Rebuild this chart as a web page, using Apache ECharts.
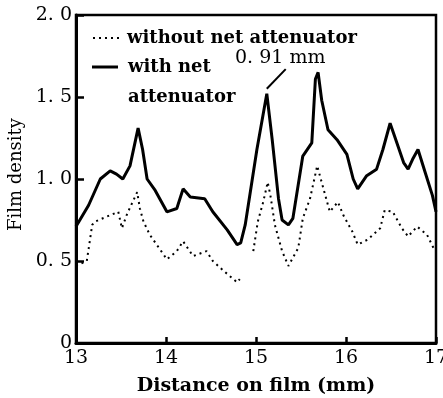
<!DOCTYPE html>
<html><head><meta charset="utf-8">
<script src="https://cdn.jsdelivr.net/npm/echarts@6/dist/echarts.min.js"></script>
<style>html,body{margin:0;padding:0;background:#fff}#c{width:443px;height:398px}</style>
</head><body><div id="c"></div>
<script>
// With net attenuator (solid)
const withX = [13.00,13.14,13.27,13.38,13.45,13.52,13.60,13.69,13.74,13.79,13.88,14.01,14.12,14.19,14.27,14.43,14.52,14.68,14.79,14.83,14.88,15.01,15.12,15.18,15.25,15.29,15.36,15.41,15.52,15.62,15.66,15.69,15.73,15.80,15.90,16.01,16.08,16.13,16.23,16.34,16.41,16.49,16.54,16.64,16.69,16.74,16.80,16.88,16.96,17.00];
const withY = [0.71,0.84,1.00,1.05,1.03,1.00,1.08,1.31,1.18,1.00,0.93,0.80,0.82,0.94,0.89,0.88,0.80,0.69,0.60,0.61,0.72,1.18,1.52,1.24,0.88,0.75,0.72,0.76,1.14,1.22,1.61,1.65,1.48,1.30,1.24,1.15,1.00,0.94,1.02,1.06,1.18,1.34,1.26,1.10,1.06,1.12,1.18,1.04,0.90,0.80];
// Without net attenuator (dotted); null marks the gap in the trace
const withoutX = [13.00,13.12,13.18,13.21,13.34,13.47,13.51,13.57,13.68,13.71,13.75,13.82,14.01,14.12,14.19,14.30,14.45,14.52,14.64,14.79,14.82,14.90,14.97,15.02,15.08,15.13,15.16,15.21,15.29,15.36,15.47,15.52,15.60,15.68,15.73,15.77,15.82,15.91,15.97,16.07,16.13,16.24,16.38,16.43,16.52,16.62,16.69,16.79,16.90,16.99];
const withoutY = [0.47,0.50,0.72,0.74,0.77,0.80,0.70,0.79,0.92,0.82,0.74,0.66,0.51,0.56,0.62,0.53,0.56,0.50,0.44,0.37,0.39,null,0.56,0.74,0.86,0.98,0.90,0.72,0.56,0.47,0.58,0.76,0.88,1.08,0.98,0.90,0.80,0.86,0.78,0.68,0.60,0.63,0.70,0.81,0.80,0.70,0.65,0.71,0.66,0.56];
const xTicks = [13,14,15,16,17];
const yTicks = [0,0.5,1.0,1.5,2.0];
const seriesNames = ['without net attenuator','with net attenuator'];
const annotationText = '0. 91 mm';
const peakLeader = [[15.12,1.55],[15.33,1.67]];

const serif = 'DejaVu Serif';
const chart = echarts.init(document.getElementById('c'));
const pairs = (xs, ys) => xs.map((x,i)=>[x, ys[i]]);
chart.setOption({
  animation:false,
  backgroundColor:'#fff',
  grid:{left:76,right:7,top:15,bottom:55,outerBoundsMode:'none',containLabel:false,show:true,borderColor:'#000',borderWidth:2.5,backgroundColor:'transparent'},
  xAxis:{type:'value',min:xTicks[0],max:xTicks[xTicks.length-1],interval:1,
    name:'Distance on film (mm)',nameLocation:'middle',nameGap:34,
    nameTextStyle:{fontFamily:serif,fontSize:19,color:'#000',fontWeight:'bold'},
    axisLine:{lineStyle:{color:'#000',width:3}},
    axisTick:{inside:true,length:6,lineStyle:{color:'#000',width:2.5}},
    axisLabel:{fontFamily:serif,fontSize:19,color:'#000',margin:6,formatter:v=>String(v)},
    splitLine:{show:false}},
  yAxis:{type:'value',min:yTicks[0],max:yTicks[yTicks.length-1],interval:0.5,
    name:'Film density',nameLocation:'middle',nameGap:46,
    nameTextStyle:{fontFamily:serif,fontSize:18,color:'#000',padding:[0,0,0,9]},
    axisLine:{lineStyle:{color:'#000',width:3}},
    axisTick:{inside:true,length:8,lineStyle:{color:'#000',width:2.5}},
    axisLabel:{fontFamily:serif,fontSize:19,color:'#000',margin:4,
      formatter:v=> v===0 ? '0' : v.toFixed(1).replace('.', '. ')},
    splitLine:{show:false}},
  graphic:[
    {type:'line',shape:{x1:93,y1:38,x2:123,y2:38},style:{stroke:'#000',lineWidth:2,lineDash:[2,4]}},
    {type:'text',x:127,y:38,style:{text:'without net attenuator',font:'bold 18px "DejaVu Serif"',fill:'#000',textVerticalAlign:'middle'}},
    {type:'line',shape:{x1:92,y1:67,x2:118,y2:67},style:{stroke:'#000',lineWidth:3}},
    {type:'text',x:128,y:67,style:{text:'with net',font:'bold 18px "DejaVu Serif"',fill:'#000',textVerticalAlign:'middle'}},
    {type:'text',x:128,y:97,style:{text:'attenuator',font:'bold 18px "DejaVu Serif"',fill:'#000',textVerticalAlign:'middle'}},
    {type:'text',x:235,y:58,style:{text:annotationText,font:'19px "DejaVu Serif"',fill:'#000',textVerticalAlign:'middle'}}
  ],
  series:[
    {name:seriesNames[0],type:'line',data:pairs(withoutX,withoutY),showSymbol:false,symbol:'none',connectNulls:false,
      lineStyle:{color:'#000',width:2,type:[2,4]}},
    {name:seriesNames[1],type:'line',data:pairs(withX,withY),showSymbol:false,symbol:'none',
      lineStyle:{color:'#000',width:3},
      markLine:{symbol:'none',silent:true,label:{show:false},lineStyle:{color:'#000',width:2,type:'solid'},
        data:[[{coord:peakLeader[0]},{coord:peakLeader[1]}]]}}
  ]
});
</script></body></html>
